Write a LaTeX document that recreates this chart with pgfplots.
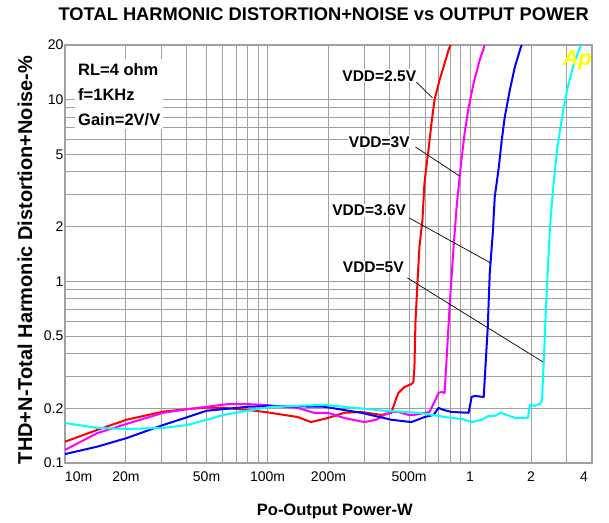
\documentclass[border=0pt]{standalone}
\usepackage{fontspec}
\setmainfont{Liberation Sans}
\usepackage{pgfplots}
\pgfplotsset{compat=1.18}
\definecolor{gridgray}{RGB}{160,160,160}
\definecolor{apyellow}{RGB}{255,255,0}
\begin{document}
\begin{tikzpicture}
\begin{axis}[
  xmode=log, ymode=log,
  scale only axis, width=527pt, height=418pt,
  xmin=0.01, xmax=4, ymin=0.1, ymax=20,
  xtick={0.01,0.02,0.05,0.1,0.2,0.5,1,2,4},
  xticklabels={\makebox[0pt][l]{10m},20m,50m,100m,200m,500m,1,2,\makebox[0pt][r]{4\hspace{4pt}}},
  minor xtick={0.03,0.04,0.06,0.07,0.08,0.09,0.3,0.4,0.6,0.7,0.8,0.9,3},
  ytick={0.1,0.2,0.5,1,2,5,10,20},
  yticklabels={0.1,0.2,0.5,1,2,5,10,20},
  minor ytick={0.3,0.4,0.6,0.7,0.8,0.9,3,4,6,7,8,9},
  grid=both,
  major grid style={gridgray, line width=1pt},
  minor grid style={gridgray, line width=1pt},
  axis line style={gridgray, line width=1.5pt},
  major tick length=0pt, minor tick length=0pt,
  ticklabel style={font=\fontsize{14}{16}\selectfont},
  xticklabel style={yshift=-5pt},
  yticklabel style={xshift=2pt},
  title={TOTAL HARMONIC DISTORTION+NOISE vs OUTPUT POWER},
  title style={font=\bfseries\fontsize{18.3}{20}\selectfont, at={(0.491,1.0431)}, anchor=base},
  xlabel={Po-Output Power-W},
  xlabel style={font=\bfseries\fontsize{16.5}{18}\selectfont, at={(0.512,-0.1244)}, anchor=base},
  ylabel={THD+N-Total Harmonic Distortion+Noise-\%},
  ylabel style={font=\bfseries\fontsize{20}{22}\selectfont, at={(-0.0626,0.486)}, anchor=base, rotate=0},
  every axis plot/.append style={no marks, line width=2pt, line join=round},
]
% VDD=2.5V
\addplot[color={rgb,255:red,255;green,0;blue,0}] coordinates {
(0.0100,0.131) (0.01441,0.152) (0.0201,0.173) (0.0306,0.192) (0.0403,0.198)
(0.0500,0.202) (0.0607,0.201) (0.0799,0.196) (0.1003,0.190) (0.1413,0.179)
(0.1639,0.168) (0.1991,0.177) (0.2389,0.189) (0.2901,0.191) (0.3646,0.184)
(0.4087,0.189) (0.4182,0.204) (0.4327,0.228) (0.4426,0.243) (0.4740,0.262)
(0.5134,0.272) (0.5253,0.279) (0.5313,0.338) (0.5374,0.590) (0.5498,0.980)
(0.5625,1.55) (0.5821,2.18) (0.5955,3.48) (0.6234,5.29) (0.6451,7.44)
(0.6677,9.96) (0.7070,12.84) (0.7400,15.13) (0.7833,18.77) (0.8013,20)
};
% VDD=3V
\addplot[color={rgb,255:red,255;green,0;blue,255}] coordinates {
(0.0100,0.118) (0.01441,0.146) (0.0201,0.164) (0.0306,0.189) (0.0403,0.198)
(0.0500,0.204) (0.0636,0.211) (0.0799,0.211) (0.0959,0.209) (0.1413,0.201)
(0.1696,0.189) (0.1991,0.189) (0.2389,0.177) (0.3002,0.168) (0.3443,0.173)
(0.3773,0.184) (0.4087,0.191) (0.4426,0.191) (0.4961,0.184) (0.5313,0.184)
(0.6306,0.191) (0.6677,0.217) (0.6989,0.243) (0.7233,0.246) (0.7485,0.243)
(0.7656,0.369) (0.7923,0.723) (0.8293,1.55) (0.8582,2.57) (0.8983,4.26)
(0.9402,6.56) (0.9842,9.12) (1.042,12.36) (1.116,16.54) (1.181,20)
};
% VDD=3.6V
\addplot[color={rgb,255:red,0;green,0;blue,255}] coordinates {
(0.0100,0.112) (0.01441,0.123) (0.0201,0.137) (0.0306,0.162) (0.0403,0.179)
(0.0500,0.194) (0.0607,0.198) (0.0799,0.204) (0.1038,0.206) (0.1902,0.204)
(0.2901,0.189) (0.4087,0.173) (0.5134,0.168) (0.5955,0.179) (0.6600,0.184)
(0.6989,0.201) (0.7400,0.196) (0.8106,0.191) (0.9842,0.189) (1.018,0.231)
(1.054,0.234) (1.168,0.231) (1.181,0.287) (1.223,0.561) (1.251,1.11)
(1.295,1.85) (1.324,2.91) (1.387,4.26) (1.434,6.00) (1.484,8.03)
(1.572,11.31) (1.664,15.13) (1.782,19.50) (1.80,20)
};
% VDD=5V
\addplot[color={rgb,255:red,0;green,255;blue,255}] coordinates {
(0.0100,0.166) (0.01441,0.156) (0.0201,0.154) (0.0306,0.156) (0.0403,0.162)
(0.0500,0.173) (0.0607,0.184) (0.0799,0.194) (0.1038,0.204) (0.1902,0.209)
(0.3773,0.194) (0.5562,0.189) (0.8106,0.177) (0.9086,0.175) (1.018,0.168)
(1.141,0.173) (1.237,0.182) (1.324,0.182) (1.418,0.189) (1.519,0.184)
(1.664,0.177) (1.931,0.177) (1.975,0.209) (2.091,0.206) (2.239,0.214)
(2.265,0.222) (2.317,0.384) (2.371,0.723) (2.425,1.20) (2.481,1.99)
(2.567,3.18) (2.688,5.29) (2.846,8.03) (3.013,11.31) (3.263,15.93)
(3.495,19.50) (3.55,20)
};
% conditions box
\node[anchor=north west, fill=white, inner xsep=3pt, inner ysep=4pt, align=left,
  font=\bfseries\fontsize{16.5}{25}\selectfont] at (rel axis cs:0.019,0.9665)
  {RL=4 ohm\\f=1KHz\\Gain=2V/V};
% curve labels with leader lines
\draw[black, line width=0.7pt] (axis cs:0.5435,12.51) -- (axis cs:0.6525,10.22);
\draw[black, line width=0.7pt] (axis cs:0.5374,5.49) -- (axis cs:0.888,3.80);
\draw[black, line width=0.7pt] (axis cs:0.5017,2.23) -- (axis cs:1.265,1.262);
\draw[black, line width=0.7pt] (axis cs:0.4904,1.044) -- (axis cs:2.291,0.360);
\node[fill=white, inner sep=1pt, font=\bfseries\fontsize{15.5}{17}\selectfont] at (axis cs:0.3563,13.51) {VDD=2.5V};
\node[fill=white, inner sep=1pt, font=\bfseries\fontsize{15.5}{17}\selectfont] at (axis cs:0.3563,5.85) {VDD=3V};
\node[fill=white, inner sep=1pt, font=\bfseries\fontsize{15.5}{17}\selectfont] at (axis cs:0.3178,2.47) {VDD=3.6V};
\node[fill=white, inner sep=1pt, font=\bfseries\fontsize{15.5}{17}\selectfont] at (axis cs:0.3328,1.20) {VDD=5V};
% logo
\node[text=apyellow, font=\bfseries\itshape\fontsize{22}{24}\selectfont] at (rel axis cs:0.972,0.964) {Ap};
\coordinate (LL) at (rel axis cs:0,0);
\end{axis}
\pgfresetboundingbox
\path[use as bounding box] (LL) ++(-65pt,-59pt) rectangle ++(609pt,522pt);
\end{tikzpicture}
\end{document}
